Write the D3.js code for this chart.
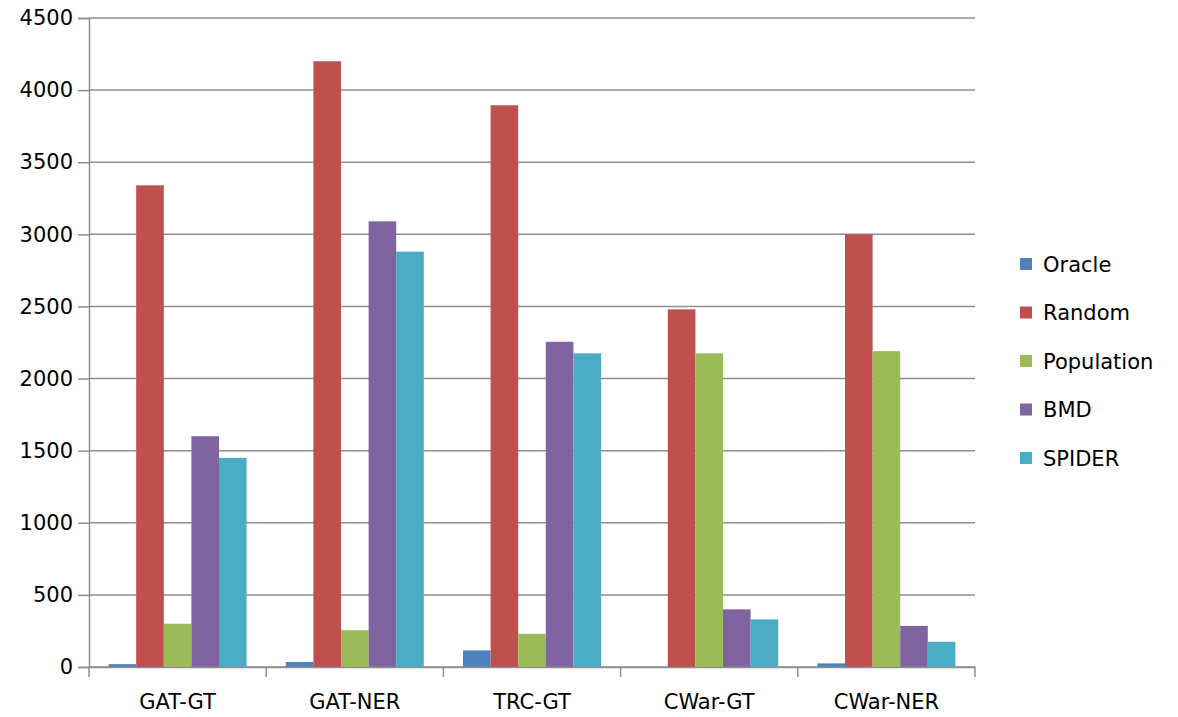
<!DOCTYPE html>
<html>
<head>
<meta charset="utf-8">
<script src="https://cdn.jsdelivr.net/npm/d3@7"></script>
<style>
  body { margin: 0; background: #fff; }
  text { font-family: "DejaVu Sans", sans-serif; fill: #000; }
</style>
</head>
<body>
<svg id="chart" width="1178" height="717"></svg>
<script>
// data
var categories = ["GAT-GT", "GAT-NER", "TRC-GT", "CWar-GT", "CWar-NER"];
var seriesNames = ["Oracle", "Random", "Population", "BMD", "SPIDER"];
var oracle     = [20, 35, 115, 0, 25];
var random     = [3340, 4200, 3895, 2480, 3000];
var population = [300, 255, 230, 2175, 2190];
var bmd        = [1600, 3090, 2255, 400, 285];
var spider     = [1450, 2880, 2175, 330, 175];
var yTicks = [0, 500, 1000, 1500, 2000, 2500, 3000, 3500, 4000, 4500];

var colors = ["#4F81BD", "#C0504D", "#9BBB59", "#8064A2", "#4BACC6"];
var values = [oracle, random, population, bmd, spider];

var svg = d3.select("#chart");
var plotLeft = 89, plotRight = 975, plotTop = 18, plotBottom = 667;

var x = d3.scaleBand().domain(categories).range([plotLeft, plotRight]).paddingInner(0).paddingOuter(0);
var xs = d3.scaleBand().domain(seriesNames).range([0, x.bandwidth()]).paddingInner(0).paddingOuter(0.71);
var y = d3.scaleLinear().domain([0, 4500]).range([plotBottom, plotTop]);

var gridColor = "#8e8e8e";

// gridlines
svg.append("g")
  .selectAll("line")
  .data(yTicks)
  .join("line")
    .attr("x1", plotLeft).attr("x2", plotRight)
    .attr("y1", d => y(d)).attr("y2", d => y(d))
    .attr("stroke", gridColor)
    .attr("stroke-width", 1.5);

// bars
seriesNames.forEach(function (s, i) {
  svg.append("g")
    .attr("fill", colors[i])
    .selectAll("rect")
    .data(values[i])
    .join("rect")
      .attr("x", (d, j) => x(categories[j]) + xs(s))
      .attr("y", d => y(d))
      .attr("width", xs.bandwidth())
      .attr("height", d => plotBottom - y(d));
});

// y axis
var yAxis = svg.append("g")
  .attr("transform", "translate(" + plotLeft + ",0)")
  .call(d3.axisLeft(y).tickValues(yTicks).tickFormat(d3.format("d")).tickSize(11).tickPadding(5));
yAxis.select(".domain").attr("stroke", gridColor).attr("stroke-width", 1.5);
yAxis.selectAll(".tick line").attr("stroke", gridColor).attr("stroke-width", 1.5);
yAxis.selectAll("text").style("font-size", "21px").attr("font-family", "DejaVu Sans");

// x axis
var xAxis = svg.append("g")
  .attr("transform", "translate(0," + plotBottom + ")")
  .call(d3.axisBottom(x).tickSize(0).tickPadding(27));
xAxis.select(".domain").attr("stroke", gridColor).attr("stroke-width", 1.5);
xAxis.selectAll("text").style("font-size", "21px").attr("font-family", "DejaVu Sans");

// category dividers
var edges = categories.map(c => x(c)).concat([plotRight]);
svg.append("g")
  .selectAll("line")
  .data(edges)
  .join("line")
    .attr("x1", d => d).attr("x2", d => d)
    .attr("y1", plotBottom).attr("y2", plotBottom + 10)
    .attr("stroke", gridColor)
    .attr("stroke-width", 1.5);

// legend
var legend = svg.append("g").attr("transform", "translate(1020,264)");
var row = legend.selectAll("g")
  .data(seriesNames)
  .join("g")
    .attr("transform", (d, i) => "translate(0," + (i * 48.5) + ")");
row.append("rect")
  .attr("x", 0).attr("y", -6)
  .attr("width", 12).attr("height", 12)
  .attr("fill", (d, i) => colors[i]);
row.append("text")
  .attr("x", 23).attr("y", 0)
  .attr("dy", "0.36em")
  .style("font-size", "21px")
  .text(d => d);
</script>
</body>
</html>
